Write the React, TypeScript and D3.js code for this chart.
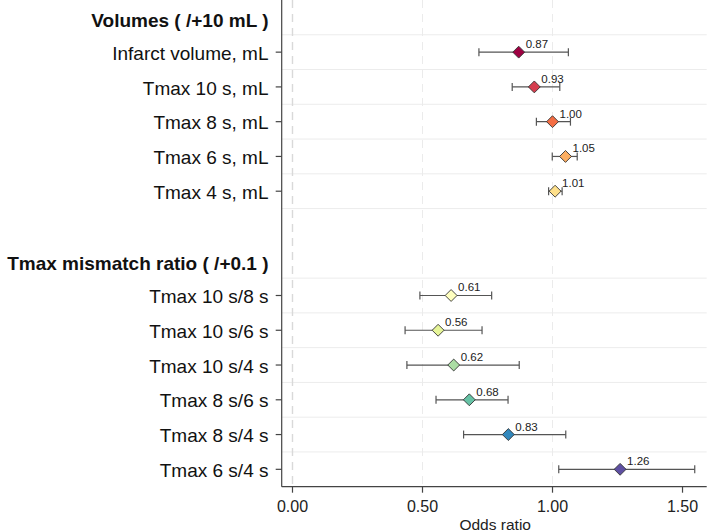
import React from "react";
import * as d3 from "d3";

// rows top to bottom; "" is the spacer row between the two groups
const rowLabels = [
  "Volumes ( /+10 mL )",
  "Infarct volume, mL",
  "Tmax 10 s, mL",
  "Tmax 8 s, mL",
  "Tmax 6 s, mL",
  "Tmax 4 s, mL",
  "",
  "Tmax mismatch ratio ( /+0.1 )",
  "Tmax 10 s/8 s",
  "Tmax 10 s/6 s",
  "Tmax 10 s/4 s",
  "Tmax 8 s/6 s",
  "Tmax 8 s/4 s",
  "Tmax 6 s/4 s",
];
const headerRows = [0, 7];

// estimates, one per item row (same order as item labels)
const itemRows = [1, 2, 3, 4, 5, 8, 9, 10, 11, 12, 13];
const oddsRatio = [0.87, 0.93, 1.0, 1.05, 1.01, 0.61, 0.56, 0.62, 0.68, 0.83, 1.26];
const ciLower = [0.717, 0.845, 0.938, 0.999, 0.985, 0.49, 0.433, 0.44, 0.552, 0.658, 1.024];
const ciUpper = [1.061, 1.028, 1.069, 1.095, 1.037, 0.766, 0.729, 0.872, 0.829, 1.051, 1.547];
const pointColors = [
  "#9E0142", "#D53E4F", "#F46D43", "#FDAE61", "#FEE08B",
  "#FFFFBF", "#E6F598", "#ABDDA4", "#66C2A5", "#3288BD", "#5E4FA2",
];
const xTicks = [0, 0.5, 1.0, 1.5];
const xGrid = [0, 0.5, 1.0];

const WIDTH = 709;
const HEIGHT = 532;
const FONT = "'Liberation Sans', Arial, Helvetica, sans-serif";

export default function App() {
  const margin = { top: 0, right: 2.3, bottom: 45.3, left: 281.7 };
  const plotRight = WIDTH - margin.right;
  const plotBottom = HEIGHT - margin.bottom;

  const x = d3.scaleLinear().domain([-0.0415, 1.593]).range([margin.left, plotRight]);
  const y = d3
    .scaleBand<number>()
    .domain(d3.range(rowLabels.length))
    .range([margin.top, plotBottom])
    .padding(0);
  const bw = y.bandwidth();
  const cy = (i: number) => (y(i) as number) + bw / 2;

  // light separators below each row, skipping the spacer and the last row
  const sepRows = d3.range(rowLabels.length - 1).filter((i) => i !== 6);

  const diamond = d3.symbol().type(d3.symbolDiamond2).size(90);
  const cap = 4;

  return (
    <svg
      width={WIDTH}
      height={HEIGHT}
      style={{ position: "absolute", left: 0, top: 0, background: "#fff" }}
      fontFamily={FONT}
    >
      {/* horizontal separators */}
      {sepRows.map((i) => (
        <line
          key={"h" + i}
          x1={margin.left}
          x2={plotRight}
          y1={(y(i) as number) + bw}
          y2={(y(i) as number) + bw}
          stroke="#ececec"
          strokeWidth={1}
        />
      ))}

      {/* vertical dashed grid */}
      {xGrid.map((v) => (
        <line
          key={"v" + v}
          x1={x(v)}
          x2={x(v)}
          y1={margin.top}
          y2={plotBottom}
          stroke={v === 0 ? "#d9d9d9" : "#ebebeb"}
          strokeWidth={v === 0 ? 1.4 : 1}
          strokeDasharray="8,6"
        />
      ))}

      {/* axes */}
      <line x1={margin.left} x2={margin.left} y1={margin.top} y2={plotBottom} stroke="#444" strokeWidth={1.2} />
      <line x1={margin.left} x2={plotRight} y1={plotBottom} y2={plotBottom} stroke="#444" strokeWidth={1.2} />

      {xTicks.map((v) => (
        <g key={"xt" + v}>
          <line x1={x(v)} x2={x(v)} y1={plotBottom} y2={plotBottom + 6} stroke="#444" strokeWidth={1.2} />
          <text x={x(v)} y={plotBottom + 25.5} textAnchor="middle" fontSize={16} fill="#222">
            {d3.format(".2f")(v)}
          </text>
        </g>
      ))}
      <text x={(margin.left + plotRight) / 2 + 1} y={529.5} textAnchor="middle" fontSize={15.5} fill="#222">
        Odds ratio
      </text>

      {/* row labels */}
      {rowLabels.map((lab, i) => {
        if (!lab) return null;
        const isHeader = headerRows.includes(i);
        return (
          <g key={"r" + i}>
            {!isHeader && (
              <line x1={margin.left - 6} x2={margin.left} y1={cy(i)} y2={cy(i)} stroke="#444" strokeWidth={1.2} />
            )}
            <text
              x={268.5}
              y={cy(i) + (isHeader ? 9.4 : 7.6)}
              textAnchor="end"
              fontSize={19}
              fontWeight={isHeader ? "bold" : "normal"}
              fill="#111"
            >
              {lab}
            </text>
          </g>
        );
      })}

      {/* confidence intervals, points, value labels */}
      {itemRows.map((r, k) => {
        const yy = cy(r);
        return (
          <g key={"p" + r}>
            <line x1={x(ciLower[k])} x2={x(ciUpper[k])} y1={yy} y2={yy} stroke="#555" strokeWidth={1.2} />
            <line x1={x(ciLower[k])} x2={x(ciLower[k])} y1={yy - cap} y2={yy + cap} stroke="#555" strokeWidth={1.2} />
            <line x1={x(ciUpper[k])} x2={x(ciUpper[k])} y1={yy - cap} y2={yy + cap} stroke="#555" strokeWidth={1.2} />
            <path
              d={diamond() as string}
              transform={`translate(${x(oddsRatio[k])},${yy})`}
              fill={pointColors[k]}
              stroke="#333"
              strokeWidth={0.9}
            />
            <text x={x(oddsRatio[k]) + 7} y={yy - 4} fontSize={11.5} fill="#222">
              {d3.format(".2f")(oddsRatio[k])}
            </text>
          </g>
        );
      })}
    </svg>
  );
}
